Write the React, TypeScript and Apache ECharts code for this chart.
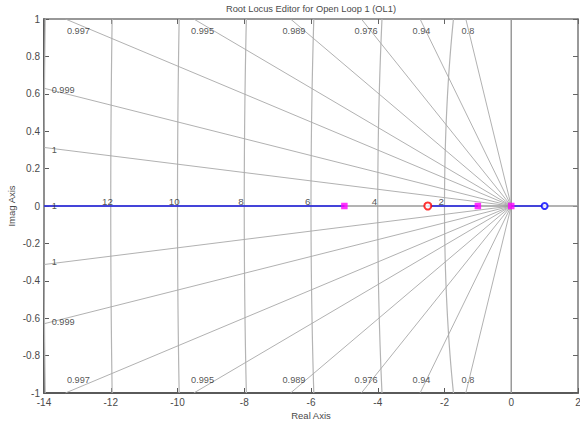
import React, { useEffect, useRef } from "react";
import * as echarts from "echarts";

// ---- data ----
const xMin = -14;
const xMax = 2;
const yMin = -1;
const yMax = 1;

// damping ratios of the grid rays (actual values) and their labels
const dampingZeta = [0.99975, 0.99899, 0.99721, 0.99452, 0.98876, 0.9761, 0.93909, 0.80593];
const dampingLabels = ["1", "0.999", "0.997", "0.995", "0.989", "0.976", "0.94", "0.8"];
// centres of the damping labels along the top/bottom border
const topLabelX = [-12.97, -9.25, -6.51, -4.35, -2.69, -1.3];

// natural frequency contours
const freqValues = [2, 4, 6, 8, 10, 12, 14];
const freqLabels = ["2", "4", "6", "8", "10", "12"];

// open-loop poles and zeros
const poles = [-5, -1, 0];
const compensatorZeros = [-2.5];
const plantZeros = [1];

// root locus branches on the real axis
const locusSegments: [number, number][] = [
  [-14, -5],
  [-2.5, -1],
  [0, 1],
];

const GRID_GRAY = "#a8a8a8";
const TEXT = "#4a4a4a";
const LABEL_TEXT = "#262626";
const FONT = "Liberation Sans, Arial, sans-serif";

function buildOption() {
  const series: any[] = [];
  const lineBase = {
    type: "line",
    symbol: "none",
    silent: true,
    animation: false,
  };

  // frequency contours (arcs of |s| = r in the left half plane)
  freqValues.forEach((r) => {
    const pts: number[][] = [];
    for (let i = 0; i <= 40; i++) {
      const y = yMin + ((yMax - yMin) * i) / 40;
      pts.push([-Math.sqrt(r * r - y * y), y]);
    }
    series.push({
      ...lineBase,
      data: pts,
      lineStyle: { color: "#b4b4b4", width: 1.2 },
      z: 1,
    });
  });

  // damping rays
  const leftLabelData: any[] = [];
  dampingZeta.forEach((z, i) => {
    const t = Math.sqrt(1 - z * z) / z;
    let end: number[];
    if (-xMin * t <= yMax) end = [xMin, -xMin * t];
    else end = [-1 / t, yMax];
    [1, -1].forEach((s) => {
      series.push({
        ...lineBase,
        data: [
          [0, 0],
          [end[0], end[1] * s],
        ],
        lineStyle: { color: GRID_GRAY, width: 0.9 },
        z: 1,
      });
    });
    if (end[0] === xMin) {
      leftLabelData.push({ value: [-13.77, end[1] - 0.012], name: dampingLabels[i] });
      leftLabelData.push({ value: [-13.77, -end[1] + 0.012], name: dampingLabels[i] });
    }
  });
  // zeta = 1 label on the real axis
  leftLabelData.push({ value: [-13.77, 0], name: "1" });

  // imaginary axis (zeta = 0)
  series.push({
    ...lineBase,
    data: [
      [0, yMin],
      [0, yMax],
    ],
    lineStyle: { color: "#9a9a9a", width: 1.5 },
    z: 1,
  });

  // real axis
  series.push({
    ...lineBase,
    data: [
      [xMin, 0],
      [xMax, 0],
    ],
    lineStyle: { color: "#9a9a9a", width: 1.6 },
    z: 2,
  });

  // locus branches
  locusSegments.forEach((seg) => {
    series.push({
      ...lineBase,
      data: [
        [seg[0], 0],
        [seg[1], 0],
      ],
      lineStyle: { color: "#1f1fe6", width: 1.6 },
      z: 3,
    });
  });

  // poles
  series.push({
    type: "scatter",
    silent: true,
    symbol: "rect",
    symbolSize: 6.5,
    data: poles.map((p) => [p, 0]),
    itemStyle: { color: "#ff00ff" },
    z: 5,
  });
  // compensator zeros
  series.push({
    type: "scatter",
    silent: true,
    symbol: "emptyCircle",
    symbolSize: 7,
    data: compensatorZeros.map((p) => [p, 0]),
    itemStyle: { color: "#ff0000", borderColor: "#ff0000", borderWidth: 1.2 },
    z: 5,
  });
  // plant zeros
  series.push({
    type: "scatter",
    silent: true,
    symbol: "emptyCircle",
    symbolSize: 6,
    data: plantZeros.map((p) => [p, 0]),
    itemStyle: { color: "#0000ff", borderColor: "#0000ff", borderWidth: 1.2 },
    z: 5,
  });

  const textLabel = (extra: any) => ({
    show: true,
    position: "inside",
    formatter: (p: any) => p.name,
    color: LABEL_TEXT,
    fontSize: 9.2,
    fontFamily: FONT,
    ...extra,
  });
  const labelSeries = (data: any[], extra: any) => ({
    type: "scatter",
    silent: true,
    symbol: "circle",
    symbolSize: 1,
    itemStyle: { color: "rgba(0,0,0,0)" },
    data,
    label: textLabel(extra),
    labelLayout: { hideOverlap: false },
    z: 6,
  });

  // damping labels top and bottom
  const tbData: any[] = [];
  topLabelX.forEach((x, i) => {
    const name = dampingLabels[i + 2];
    tbData.push({ value: [x, 0.934], name });
    tbData.push({ value: [x, -0.932], name });
  });
  series.push(labelSeries(tbData, {}));
  series.push(labelSeries(leftLabelData, { align: "left" }));
  // frequency labels
  series.push(
    labelSeries(
      freqLabels.map((l) => ({ value: [-Number(l) - 0.1, 0.0], name: l })),
      { verticalAlign: "bottom", fontSize: 9.8 }
    )
  );

  const axisLabel = { color: TEXT, fontSize: 10, fontFamily: FONT, margin: 4 };
  const fmtY = (v: number) => String(Math.round(v * 10) / 10);

  return {
    animation: false,
    backgroundColor: "#ffffff",
    grid: {
      left: 44,
      right: 2,
      top: 19,
      bottom: 29,
      containLabel: false,
      outerBoundsMode: "none",
    },
    graphic: [
      {
        type: "text",
        x: 311,
        y: 9,
        silent: true,
        style: {
          text: "Root Locus Editor for Open Loop 1 (OL1)",
          fill: TEXT,
          fontSize: 9.3,
          fontFamily: FONT,
          textAlign: "center",
          textVerticalAlign: "middle",
        },
      },
    ],
    xAxis: [
      {
        type: "value",
        min: xMin,
        max: xMax,
        interval: 2,
        position: "bottom",
        name: "Real Axis",
        nameLocation: "middle",
        nameGap: 17,
        nameMoveOverlap: false,
        nameTextStyle: { color: TEXT, fontSize: 9.5, fontFamily: FONT },
        axisLine: { show: true, onZero: false, lineStyle: { color: "#5a5a5a", width: 2 } },
        axisTick: { show: true, inside: true, length: 5, lineStyle: { color: "#5a5a5a" } },
        axisLabel: { ...axisLabel, showMinLabel: true, showMaxLabel: true, hideOverlap: false },
        splitLine: { show: false },
      },
      {
        type: "value",
        min: xMin,
        max: xMax,
        interval: 2,
        position: "top",
        axisLine: { show: true, onZero: false, lineStyle: { color: "#777", width: 1.5 } },
        axisTick: { show: true, inside: true, length: 5, lineStyle: { color: "#666" } },
        axisLabel: { show: false },
        splitLine: { show: false },
      },
    ],
    yAxis: [
      {
        type: "value",
        min: yMin,
        max: yMax,
        interval: 0.2,
        position: "left",
        name: "Imag Axis",
        nameLocation: "middle",
        nameGap: 28,
        nameMoveOverlap: false,
        nameRotate: 90,
        nameTextStyle: { color: TEXT, fontSize: 9.5, fontFamily: FONT },
        axisLine: { show: true, onZero: false, lineStyle: { color: "#5a5a5a", width: 2 } },
        axisTick: { show: true, inside: true, length: 5, lineStyle: { color: "#5a5a5a" } },
        axisLabel: { ...axisLabel, formatter: fmtY, showMinLabel: true, showMaxLabel: true },
        splitLine: { show: false },
      },
      {
        type: "value",
        min: yMin,
        max: yMax,
        interval: 0.2,
        position: "right",
        axisLine: { show: true, onZero: false, lineStyle: { color: "#777", width: 1.5 } },
        axisTick: { show: true, inside: true, length: 5, lineStyle: { color: "#666" } },
        axisLabel: { show: false },
        splitLine: { show: false },
      },
    ],
    series,
  };
}

export default function App() {
  const ref = useRef<HTMLDivElement>(null);
  useEffect(() => {
    document.body.style.margin = "0";
    if (!ref.current) return;
    const chart = echarts.init(ref.current, undefined, { renderer: "svg" });
    chart.setOption(buildOption() as any);
    return () => chart.dispose();
  }, []);
  return <div ref={ref} style={{ width: 580, height: 422 }} />;
}
